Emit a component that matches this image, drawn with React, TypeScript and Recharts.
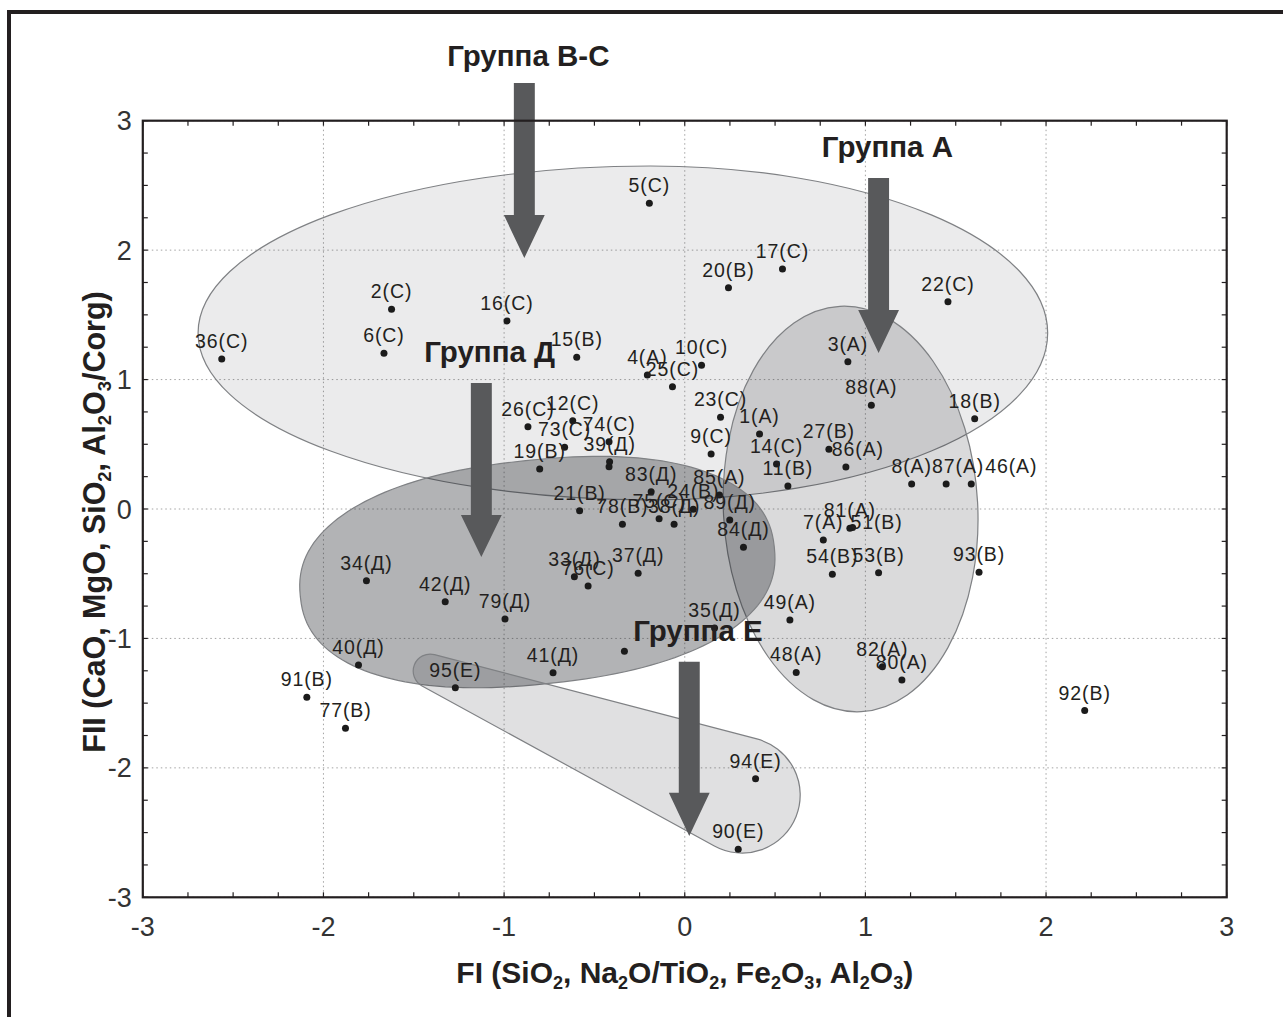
import React from "react";
import {
  ScatterChart,
  Scatter,
  XAxis,
  YAxis,
  CartesianGrid,
  ReferenceArea,
} from "recharts";

// sample labels and factor scores
const pointLabels = [
  "36(С)", "2(С)", "6(С)", "16(С)", "15(В)", "5(С)", "4(А)", "25(С)", "10(С)", "20(В)",
  "17(С)", "22(С)", "3(А)", "88(А)", "18(В)", "23(С)", "1(А)", "9(С)", "27(В)", "86(А)",
  "14(С)", "11(В)", "8(А)", "87(А)", "46(А)", "26(С)", "12(С)", "73(С)", "74(С)", "19(В)",
  "39(Д)", "", "83(Д)", "21(В)", "78(В)", "75(С)", "38(Д)", "24(В)", "85(А)", "89(Д)",
  "84(Д)", "7(А)", "81(А)", "51(В)", "54(В)", "53(В)", "93(В)", "49(А)", "48(А)", "82(А)",
  "80(А)", "92(В)", "94(Е)", "90(Е)", "34(Д)", "42(Д)", "79(Д)", "33(Д)", "76(С)", "37(Д)",
  "40(Д)", "95(Е)", "41(Д)", "35(Д)", "", "91(В)", "77(В)",
];

const pointX = [
  -2.563, -1.623, -1.665, -0.984, -0.598, -0.196, -0.207, -0.068, 0.093, 0.242,
  0.541, 1.457, 0.903, 1.033, 1.605, 0.198, 0.414, 0.146, 0.798, 0.892,
  0.508, 0.571, 1.256, 1.447, 1.586, -0.868, -0.62, -0.665, -0.419, -0.803,
  -0.416, -0.419, -0.186, -0.582, -0.345, -0.142, -0.059, 0.047, 0.192, 0.249,
  0.325, 0.767, 0.914, 0.929, 0.817, 1.073, 1.629, 0.582, 0.617, 1.094,
  1.202, 2.214, 0.392, 0.296, -1.762, -1.326, -0.995, -0.611, -0.535, -0.258,
  -1.806, -1.27, -0.729, 0.165, -0.334, -2.092, -1.878,
];

const pointY = [
  1.159, 1.543, 1.203, 1.453, 1.172, 2.362, 1.035, 0.945, 1.11, 1.71,
  1.854, 1.602, 1.138, 0.801, 0.698, 0.708, 0.579, 0.425, 0.461, 0.324,
  0.348, 0.178, 0.193, 0.193, 0.193, 0.636, 0.682, 0.477, 0.52, 0.309,
  0.365, 0.327, 0.134, -0.013, -0.118, -0.075, -0.118, -0.002, 0.108, -0.085,
  -0.296, -0.24, -0.149, -0.143, -0.505, -0.492, -0.489, -0.858, -1.263, -1.218,
  -1.321, -1.557, -2.084, -2.629, -0.554, -0.716, -0.85, -0.523, -0.595, -0.497,
  -1.205, -1.381, -1.265, -0.919, -1.099, -1.455, -1.694,
];

const xTicks = [-3, -2, -1, 0, 1, 2, 3];
const yTicks = [-3, -2, -1, 0, 1, 2, 3];

// a few labels sit beside their dot in the original (pixels)
const labelShift: Record<string, [number, number]> = {
  "51(В)": [24, 12],
  "86(А)": [12, 0],
  "87(А)": [12, 0],
  "46(А)": [40, 0],
};

// group outlines, in axis units
const groupBC = { cx: -0.19, cy: 1.36, rxLeft: 2.504, rxRight: 2.199, ry: 1.29 };
const groupA = { cx: 0.918, cy: 0, rx: 0.704, ry: 1.568, rot: -3 };
const groupD = { cx: -0.816, cy: -0.487, rx: 1.319, ry: 0.865, rot: -6, power: 2.3 };
const groupE = { x1: -1.409, y1: -1.252, r1: 0.094, x2: 0.318, y2: -2.21, r2: 0.321 };

const arrows = [
  { x: -0.888, top: 3.291, base: 2.271, tip: 1.939 },
  { x: 1.073, top: 2.557, base: 1.538, tip: 1.205 },
  { x: -1.126, top: 0.973, base: -0.046, tip: -0.371 },
  { x: 0.025, top: -1.18, base: -2.192, tip: -2.527 },
];

const groupTitles = [
  { text: "Группа В-С", x: -0.866, y: 3.42 },
  { text: "Группа А", x: 1.122, y: 2.72 },
  { text: "Группа Д", x: -1.08, y: 1.136 },
  { text: "Группа Е", x: 0.073, y: -1.02 },
];

const xTitle: [string, boolean][] = [
  ["FI (SiO", false], ["2", true], [", Na", false], ["2", true], ["O/TiO", false],
  ["2", true], [", Fe", false], ["2", true], ["O", false], ["3", true], [", Al", false],
  ["2", true], ["O", false], ["3", true], [")", false],
];
const yTitle: [string, boolean][] = [
  ["FII (CaO, MgO, SiO", false], ["2", true], [", Al", false], ["2", true], ["O", false],
  ["3", true], ["/Corg)", false],
];

const points = pointLabels.map((label, i) => ({ label, x: pointX[i], y: pointY[i] }));

const INK = "#231f20";
const ARROW = "#58595b";
const TINT = "#1d2027";
const EDGE = "#7f8184";
const FONT = "'Liberation Sans', Arial, Helvetica, sans-serif";

function mapper(p: any) {
  const { x, y, width, height } = p;
  return {
    px: (v: number) => x + ((v + 3) / 6) * width,
    py: (v: number) => y + ((3 - v) / 6) * height,
    sx: width / 6,
    sy: height / 6,
    box: { x, y, width, height },
  };
}

function superEllipse(cx: number, cy: number, a: number, b: number, rot: number, n: number) {
  const r = (rot * Math.PI) / 180;
  const pts: string[] = [];
  for (let i = 0; i < 160; i++) {
    const t = (i / 160) * Math.PI * 2;
    const c = Math.cos(t);
    const s = Math.sin(t);
    const u = a * Math.sign(c) * Math.pow(Math.abs(c), 2 / n);
    const v = b * Math.sign(s) * Math.pow(Math.abs(s), 2 / n);
    pts.push(`${(cx + u * Math.cos(r) - v * Math.sin(r)).toFixed(2)},${(cy + u * Math.sin(r) + v * Math.cos(r)).toFixed(2)}`);
  }
  return "M" + pts.join("L") + "Z";
}

function taper(x1: number, y1: number, r1: number, x2: number, y2: number, r2: number) {
  const d = Math.hypot(x2 - x1, y2 - y1);
  const a = Math.atan2(y2 - y1, x2 - x1);
  const phi = Math.asin((r2 - r1) / d);
  const ta = a - Math.PI / 2 - phi;
  const tb = a + Math.PI / 2 + phi;
  const p = (cx: number, cy: number, r: number, t: number) =>
    `${(cx + r * Math.cos(t)).toFixed(2)} ${(cy + r * Math.sin(t)).toFixed(2)}`;
  return (
    `M ${p(x1, y1, r1, ta)} L ${p(x2, y2, r2, ta)} ` +
    `A ${r2} ${r2} 0 1 1 ${p(x2, y2, r2, tb)} L ${p(x1, y1, r1, tb)} ` +
    `A ${r1} ${r1} 0 0 1 ${p(x1, y1, r1, ta)} Z`
  );
}

const renderRegions = (props: any) => {
  const m = mapper(props);
  const bx = m.px(groupBC.cx);
  const by = m.py(groupBC.cy);
  const bry = groupBC.ry * m.sy;
  const egg =
    `M ${bx} ${by - bry} A ${groupBC.rxRight * m.sx} ${bry} 0 0 1 ${bx} ${by + bry} ` +
    `A ${groupBC.rxLeft * m.sx} ${bry} 0 0 1 ${bx} ${by - bry} Z`;
  const acx = m.px(groupA.cx);
  const acy = m.py(groupA.cy);
  return (
    <g stroke={EDGE} strokeWidth={1.2} fill={TINT}>
      <path d={egg} fillOpacity={0.09} />
      <ellipse
        cx={acx}
        cy={acy}
        rx={groupA.rx * m.sx}
        ry={groupA.ry * m.sy}
        transform={`rotate(${groupA.rot} ${acx} ${acy})`}
        fillOpacity={0.165}
      />
      <path
        d={superEllipse(m.px(groupD.cx), m.py(groupD.cy), groupD.rx * m.sx, groupD.ry * m.sy, groupD.rot, groupD.power)}
        fillOpacity={0.34}
      />
      <path
        d={taper(m.px(groupE.x1), m.py(groupE.y1), groupE.r1 * m.sx, m.px(groupE.x2), m.py(groupE.y2), groupE.r2 * m.sx)}
        fillOpacity={0.137}
      />
    </g>
  );
};

function SubText({ parts, size }: { parts: [string, boolean][]; size: number }) {
  let shifted = false;
  return (
    <>
      {parts.map(([t, sub], i) => {
        let dy = 0;
        if (sub && !shifted) { dy = size * 0.2; shifted = true; }
        else if (!sub && shifted) { dy = -size * 0.2; shifted = false; }
        return (
          <tspan key={i} dy={dy} fontSize={sub ? size * 0.6 : size}>
            {t}
          </tspan>
        );
      })}
    </>
  );
}

const renderOverlay = (props: any) => {
  const m = mapper(props);
  const { x, y, width, height } = m.box;
  const minor: number[] = [];
  for (let v = -3; v <= 3.001; v += 0.25) minor.push(v);
  const shaft = 0.058 * m.sx;
  const head = 0.113 * m.sx;
  return (
    <g>
      {arrows.map((a, i) => {
        const cx = m.px(a.x);
        const top = m.py(a.top);
        const base = m.py(a.base);
        const tip = m.py(a.tip);
        return (
          <path
            key={i}
            d={`M ${cx - shaft} ${top} H ${cx + shaft} V ${base} H ${cx + head} L ${cx} ${tip} L ${cx - head} ${base} H ${cx - shaft} Z`}
            fill={ARROW}
          />
        );
      })}
      {groupTitles.map((g, i) => (
        <text
          key={i}
          x={m.px(g.x)}
          y={m.py(g.y)}
          textAnchor="middle"
          fontFamily={FONT}
          fontWeight={700}
          fontSize={29.5}
          fill={INK}
        >
          {g.text}
        </text>
      ))}
      {minor.map((v, i) => (
        <g key={i} stroke={INK} strokeWidth={1.2}>
          <line x1={m.px(v)} x2={m.px(v)} y1={y + height} y2={y + height - 5} />
          <line x1={m.px(v)} x2={m.px(v)} y1={y} y2={y + 5} />
          <line x1={x} x2={x + 5} y1={m.py(v)} y2={m.py(v)} />
          <line x1={x + width} x2={x + width - 5} y1={m.py(v)} y2={m.py(v)} />
        </g>
      ))}
      <rect x={x} y={y} width={width} height={height} fill="none" stroke={INK} strokeWidth={2.2} />
      <text
        x={x + width / 2}
        y={y + height + 86}
        textAnchor="middle"
        fontFamily={FONT}
        fontWeight={700}
        fontSize={30}
        fill={INK}
      >
        <SubText parts={xTitle} size={30} />
      </text>
      <text
        transform={`translate(${x - 38} ${y + height / 2 + 13}) rotate(-90)`}
        textAnchor="middle"
        fontFamily={FONT}
        fontWeight={700}
        fontSize={30.5}
        fill={INK}
      >
        <SubText parts={yTitle} size={30.5} />
      </text>
    </g>
  );
};

const renderPoint = (props: any) => {
  const { cx, cy, payload } = props;
  const [dx, dy] = labelShift[payload.label] || [0, 0];
  return (
    <g>
      <circle cx={cx} cy={cy} r={3.5} fill="#1b1b1b" />
      {payload.label ? (
        <text
          x={cx + dx}
          y={cy - 11 + dy}
          textAnchor="middle"
          fontFamily={FONT}
          fontSize={19.5}
          letterSpacing={0.9}
          fill={INK}
        >
          {payload.label}
        </text>
      ) : null}
    </g>
  );
};

const tickStyle = { fontSize: 27, fill: "#333", fontFamily: FONT };

export default function App() {
  return (
    <div
      style={{
        position: "absolute",
        left: 0,
        top: 0,
        width: 1283,
        height: 1017,
        overflow: "hidden",
        background: "#fff",
      }}
    >
      <div
        style={{
          position: "absolute",
          left: 7,
          top: 10,
          width: 1400,
          height: 1200,
          border: `4px solid ${INK}`,
          boxSizing: "border-box",
        }}
      />
      <div style={{ position: "absolute", left: 0, top: 0 }}>
        <ScatterChart
          width={1283}
          height={1017}
          margin={{ top: 120.7, right: 56.3, bottom: 59.7, left: 82.8 }}
        >
          <CartesianGrid stroke="#a3a3a3" strokeDasharray="1.5 3" strokeWidth={1} />
          <XAxis
            type="number"
            dataKey="x"
            domain={[-3, 3]}
            ticks={xTicks}
            allowDataOverflow
            height={60}
            axisLine={false}
            tickLine={false}
            tickMargin={14}
            tick={tickStyle}
          />
          <YAxis
            type="number"
            dataKey="y"
            domain={[-3, 3]}
            ticks={yTicks}
            allowDataOverflow
            width={60}
            axisLine={false}
            tickLine={false}
            tickMargin={5}
            tick={tickStyle}
          />
          <ReferenceArea
            x1={-3}
            x2={3}
            y1={-3}
            y2={3}
            ifOverflow="visible"
            shape={renderRegions}
            zIndex={50}
          />
          <Scatter data={points} isAnimationActive={false} shape={renderPoint} />
          <ReferenceArea
            x1={-3}
            x2={3}
            y1={-3}
            y2={3}
            ifOverflow="visible"
            shape={renderOverlay}
            zIndex={2500}
          />
        </ScatterChart>
      </div>
    </div>
  );
}
